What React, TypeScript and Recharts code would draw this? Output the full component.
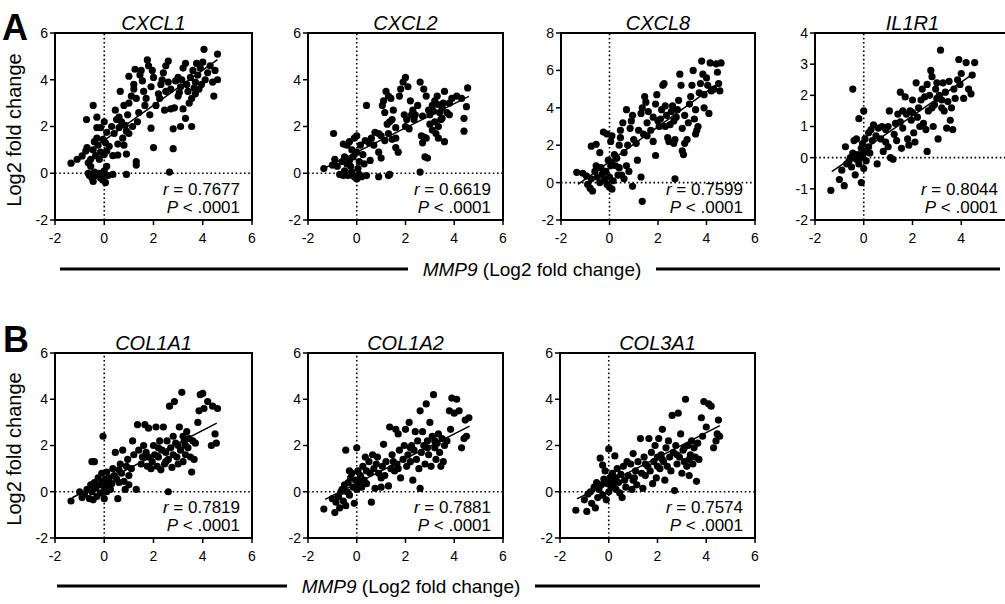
import { ScatterChart, Scatter, XAxis, YAxis, ReferenceLine } from 'recharts';

const FONT = "'Liberation Sans', Arial, Helvetica, sans-serif";

// MMP9 axis shared by every panel
const mmp9Ticks = [-2, 0, 2, 4, 6];
const mmp9TicksCut = [-2, 0, 2, 4];
const yTicks6 = [-2, 0, 2, 4, 6];
const yTicks8 = [-2, 0, 2, 4, 6, 8];
const yTicks4 = [-2, -1, 0, 1, 2, 3, 4];

// [MMP9, gene] log2 fold change
const cxcl1 = [
  [-0.65, 0.0], [-0.6, -0.1], [-0.45, -0.35], [-0.4, 0.05], [-0.3, -0.1], [-0.2, 0.0], [-0.15, -0.2], [-0.05, -0.3],
  [0.0, -0.05], [0.05, -0.4], [0.1, 0.3], [0.15, -0.1], [0.35, -0.05], [-0.5, -0.2], [0.0, 0.1], [-0.1, -0.15],
  [-1.35, 0.43], [-1.1, 0.6], [-0.9, 0.74], [-0.75, 0.95], [-0.65, 0.45], [-0.55, 0.6], [-0.7, 1.1], [-0.45, 1.0],
  [-0.4, 1.35], [-0.3, 1.5], [-0.25, 1.2], [-0.15, 0.9], [-0.05, 1.45], [0.05, 1.3], [0.1, 0.95], [0.2, 1.15],
  [-0.55, 0.3], [-0.2, 0.6], [0.0, 0.8], [-0.35, 0.75], [-0.72, 2.3], [-0.45, 2.9], [-0.3, 2.4], [-0.3, 1.95],
  [-0.15, 1.95], [0.0, 2.2], [0.1, 1.75], [0.35, 0.75], [0.55, 0.78], [0.9, 0.82], [0.9, -0.05], [1.3, 0.5],
  [1.3, 0.35], [0.3, 2.0], [0.4, 1.7], [0.5, 2.3], [0.6, 2.4], [0.45, 2.7], [0.7, 2.2], [0.8, 2.9], [0.9, 1.8],
  [1.0, 1.7], [0.75, 1.5], [0.95, 2.5], [1.1, 3.3], [1.2, 3.6], [1.3, 3.2], [1.4, 2.6], [1.35, 2.2], [0.65, 3.5],
  [1.0, 3.0], [0.85, 2.05], [1.15, 2.0], [0.6, 1.95], [0.8, 1.2], [0.55, 1.25], [1.0, 4.15], [1.25, 4.45],
  [1.45, 4.2], [1.5, 4.4], [1.2, 3.8], [1.55, 3.95], [1.6, 3.5], [1.7, 3.2], [1.75, 4.85], [1.8, 4.6], [1.95, 4.4],
  [2.0, 4.1], [1.9, 3.7], [1.65, 2.9], [1.9, 1.93], [2.0, 1.1], [1.85, 2.5], [2.1, 2.9], [2.2, 3.4], [2.3, 3.8],
  [2.4, 4.3], [2.5, 4.6], [2.6, 4.8], [2.35, 4.0], [2.25, 3.2], [2.5, 3.5], [2.6, 3.9], [2.7, 3.6], [2.45, 2.7],
  [2.7, 2.75], [2.85, 2.8], [2.8, 1.9], [2.8, 1.05], [2.65, 0.05], [3.0, 3.3], [3.1, 3.7], [3.15, 4.0], [3.2, 4.5],
  [3.3, 4.7], [3.0, 4.1], [3.35, 3.8], [3.4, 3.5], [3.5, 4.1], [3.6, 4.4], [3.55, 3.2], [3.2, 2.75], [3.3, 2.35],
  [3.1, 2.0], [3.55, 2.0], [3.45, 3.0], [3.7, 3.9], [3.8, 4.2], [3.85, 3.6], [3.9, 4.5], [4.0, 4.75], [4.05, 5.3],
  [4.1, 4.0], [4.2, 4.3], [4.3, 4.6], [4.4, 3.9], [4.5, 4.4], [4.45, 3.3], [4.6, 5.1], [4.6, 4.0], [3.7, 3.4],
  [3.75, 4.7], [2.9, 3.95], [3.05, 3.45], [3.65, 3.65], [3.95, 3.8],
];

const cxcl2 = [
  [-0.7, -0.05], [-0.55, -0.1], [-0.4, 0.0], [-0.35, -0.1], [-0.2, 0.05], [-0.1, -0.15], [0.0, -0.25], [0.1, -0.05],
  [0.2, -0.15], [0.4, -0.1], [0.9, -0.15], [1.35, -0.05], [1.3, -0.1], [-0.5, 0.1], [-0.25, 0.3], [0.05, 0.2],
  [-1.35, 0.2], [-1.0, 0.35], [-0.9, 0.6], [-0.8, 0.3], [-0.6, 0.5], [-0.5, 0.7], [-0.4, 0.4], [-0.3, 0.55],
  [-0.15, 0.7], [0.1, 0.5], [0.3, 0.4], [0.25, 0.8], [0.0, 0.9], [-0.2, 1.0], [-0.4, 1.2], [-0.55, 1.25],
  [-0.3, 1.35], [-0.1, 1.5], [0.0, 1.6], [0.15, 1.2], [0.35, 1.4], [0.5, 1.3], [0.6, 1.5], [0.7, 1.2], [-0.95, 1.7],
  [0.4, 2.9], [0.55, 0.55], [0.9, 0.9], [1.0, 0.65], [0.9, 1.7], [1.05, 2.9], [1.1, 3.1], [1.2, 3.5], [1.3, 3.3],
  [1.4, 3.2], [1.15, 2.6], [1.25, 2.1], [1.35, 2.2], [1.45, 2.3], [1.5, 2.7], [1.6, 1.1], [1.7, 0.9], [1.6, 1.5],
  [1.75, 3.3], [1.8, 3.6], [1.9, 3.9], [2.0, 4.1], [2.1, 3.7], [1.95, 2.5], [2.05, 2.3], [2.2, 3.1], [2.25, 2.5],
  [2.35, 2.3], [2.4, 2.5], [2.15, 1.9], [2.0, 2.0], [2.65, 1.6], [2.7, 1.3], [2.75, 1.55], [2.6, 0.05], [2.8, 0.7],
  [2.9, 0.65], [2.85, 1.5], [2.6, 3.9], [2.75, 3.6], [2.85, 3.3], [2.95, 2.7], [3.0, 2.5], [2.7, 2.45], [3.1, 2.9],
  [3.2, 3.1], [3.3, 3.3], [3.2, 2.2], [3.25, 1.7], [3.35, 1.5], [3.4, 2.6], [3.5, 2.8], [3.55, 3.0], [3.6, 3.5],
  [3.45, 2.3], [3.6, 1.35], [3.7, 2.6], [3.8, 2.5], [3.9, 3.2], [4.1, 3.3], [4.3, 3.2], [4.4, 1.8], [4.4, 2.35],
  [4.5, 2.85], [4.55, 3.65], [3.0, 2.1], [3.1, 1.85], [2.5, 2.9], [3.35, 2.0], [1.0, 1.6], [0.75, 1.75],
  [1.15, 1.4], [1.3, 1.7], [1.45, 1.45], [1.6, 1.95], [2.3, 2.7], [3.15, 2.65], [3.3, 2.95], [3.5, 2.35], [3.8, 3.0],
];

const cxcl8 = [
  [-1.35, 0.55], [-1.1, 0.5], [-0.95, 0.35], [-0.9, -0.1], [-0.8, -0.3], [-0.7, -0.45], [-0.75, 0.2], [-0.6, 0.6],
  [-0.55, 0.9], [-0.5, 0.3], [-0.4, 0.0], [-0.35, 0.8], [-0.3, 0.45], [-0.2, 0.2], [-0.1, -0.1], [0.0, -0.25],
  [0.1, -0.35], [0.15, 0.1], [0.0, 0.3], [-0.15, 0.6], [0.05, 0.9], [-0.05, 1.2], [0.1, 1.1], [0.25, 0.9],
  [0.3, 1.3], [0.4, 0.8], [0.5, 0.4], [0.6, 0.2], [0.7, 0.9], [0.8, 0.6], [0.95, -0.2], [1.3, 0.3], [1.35, -1.0],
  [-0.75, 1.95], [-0.55, 2.05], [-0.4, 1.6], [-0.25, 2.7], [-0.1, 2.6], [0.05, 2.2], [0.1, 2.5], [0.4, 2.0],
  [0.45, 2.4], [0.45, 2.8], [0.55, 3.2], [0.7, 3.9], [0.6, 1.6], [0.75, 2.0], [0.85, 2.9], [0.9, 3.3], [0.95, 3.6],
  [1.0, 2.3], [1.1, 2.1], [1.15, 1.2], [1.2, 2.8], [1.3, 3.7], [1.35, 4.0], [1.45, 4.6], [1.5, 4.3], [1.55, 3.2],
  [1.55, 2.5], [1.6, 3.8], [1.7, 2.8], [1.8, 3.5], [1.8, 2.2], [1.9, 4.2], [1.95, 4.7], [1.9, 1.45], [2.05, 3.0],
  [2.1, 3.4], [2.15, 3.9], [2.2, 5.2], [2.25, 5.3], [2.3, 4.1], [2.35, 3.6], [2.4, 2.4], [2.45, 2.2], [2.5, 3.1],
  [2.55, 3.8], [2.6, 4.1], [2.65, 2.1], [2.7, 2.3], [2.7, 0.2], [2.75, 3.5], [2.8, 3.9], [2.85, 4.4], [2.9, 5.8],
  [2.95, 5.2], [3.0, 2.9], [3.05, 1.5], [3.0, 1.7], [3.1, 2.1], [3.2, 2.3], [3.25, 3.2], [3.3, 4.2], [3.35, 4.6],
  [3.4, 5.2], [3.45, 6.0], [3.5, 3.4], [3.55, 2.6], [3.6, 2.8], [3.65, 3.0], [3.7, 4.8], [3.75, 5.3], [3.8, 6.5],
  [3.85, 5.8], [3.9, 4.0], [4.0, 5.6], [4.05, 5.2], [4.1, 3.7], [4.15, 6.4], [4.2, 4.9], [4.3, 5.0], [4.4, 6.35],
  [4.45, 5.9], [4.5, 5.3], [4.6, 6.4], [4.55, 4.9], [2.0, 3.3], [2.3, 3.0], [3.1, 3.6], [3.9, 4.7], [3.55, 3.9],
  [2.65, 3.3], [1.4, 2.6], [0.2, 1.5], [0.35, 0.4],
];

const il1r1 = [
  [-1.35, -1.05], [-1.0, -0.7], [-0.9, -0.4], [-0.8, -0.9], [-0.75, 0.35], [-0.7, -0.2], [-0.6, -0.1], [-0.55, 0.0],
  [-0.5, -0.3], [-0.45, 0.15], [-0.4, 0.55], [-0.35, -0.55], [-0.3, -0.05], [-0.25, 0.1], [-0.2, -0.2],
  [-0.15, 0.05], [-0.1, -0.8], [-0.1, 0.3], [-0.05, 0.0], [0.0, -0.35], [0.0, 0.15], [0.05, 0.6], [0.1, -0.1],
  [0.15, 0.2], [-0.45, 2.2], [-0.2, 1.25], [0.0, 1.5], [-0.3, 0.6], [0.2, 0.35], [0.3, 0.9], [0.4, 1.05],
  [0.35, 0.55], [0.25, 0.15], [0.55, -0.2], [0.5, 0.7], [0.6, 0.95], [0.7, 0.6], [0.75, 1.0], [0.8, 0.2], [0.9, 0.5],
  [0.9, 0.9], [1.0, 0.35], [1.05, 1.5], [1.1, 0.0], [1.2, -0.05], [1.25, 0.75], [1.3, 1.1], [1.35, 0.55], [1.4, 1.4],
  [1.5, 2.1], [1.55, 0.3], [1.5, 1.15], [1.6, 0.95], [1.7, 1.95], [1.75, 1.4], [1.8, 0.6], [1.85, 0.4], [1.9, 1.5],
  [1.95, 1.2], [2.0, 1.85], [2.05, 0.8], [2.1, 0.5], [2.15, 2.4], [2.2, 1.3], [2.25, 1.6], [2.3, 1.0], [2.35, 1.85],
  [2.4, 2.2], [2.45, 1.1], [2.5, 1.95], [2.55, 0.9], [2.6, 2.35], [2.65, 1.5], [2.7, 2.0], [2.75, 2.8], [2.8, 2.6],
  [2.6, 0.2], [2.85, 1.0], [2.9, 1.7], [2.95, 2.2], [3.0, 1.9], [3.05, 0.6], [3.1, 2.0], [3.15, 3.45], [3.2, 1.85],
  [3.25, 2.4], [3.3, 1.5], [3.35, 2.1], [3.4, 0.95], [3.45, 1.8], [3.5, 2.45], [3.55, 1.2], [3.6, 1.6], [3.65, 0.9],
  [3.7, 2.2], [3.75, 1.9], [3.85, 2.5], [3.9, 3.15], [3.95, 2.35], [4.0, 2.7], [4.1, 1.9], [4.2, 3.05], [4.3, 2.2],
  [4.4, 2.05], [4.45, 2.65], [4.55, 3.05], [1.0, 1.0], [1.6, 1.5], [2.0, 1.45], [2.8, 1.6], [3.0, 2.4], [3.2, 1.6],
  [0.2, 0.8], [-0.05, 0.45],
];

const col1a1 = [
  [-1.35, -0.4], [-1.0, 0.0], [-0.9, -0.25], [-0.8, -0.1], [-0.7, 0.1], [-0.6, -0.3], [-0.55, 0.3], [-0.5, 0.0],
  [-0.45, -0.35], [-0.4, 0.4], [-0.35, 0.15], [-0.3, -0.2], [-0.25, 0.6], [-0.2, 0.3], [-0.15, -0.05], [-0.1, 0.8],
  [-0.05, 0.45], [0.0, -0.3], [0.0, 0.2], [0.05, 0.55], [0.1, 0.0], [0.15, 0.35], [-0.5, 1.3], [-0.4, 1.3],
  [-0.05, 2.4], [0.1, 0.85], [0.2, 0.6], [0.25, 0.1], [0.35, 1.0], [0.4, 0.7], [0.45, 1.7], [0.5, 0.55],
  [0.55, -0.3], [0.6, 0.95], [0.65, 1.2], [0.7, 0.8], [0.75, 1.8], [0.8, 0.45], [0.85, 0.1], [0.9, 1.1], [0.95, 1.4],
  [1.0, 0.7], [1.1, 1.0], [1.15, 2.2], [1.2, 1.6], [1.3, 0.1], [1.35, 2.9], [1.4, 1.8], [1.5, 1.2], [1.55, 1.5],
  [1.6, 2.0], [1.65, 2.9], [1.7, 1.7], [1.75, 1.1], [1.8, 2.75], [1.9, 1.0], [1.95, 1.3], [2.0, 2.0], [2.05, 1.6],
  [2.1, 2.8], [2.15, 1.1], [2.2, 1.5], [2.25, 2.2], [2.3, 0.95], [2.35, 1.8], [2.4, 2.8], [2.45, 1.2], [2.5, 1.7],
  [2.55, 2.2], [2.6, 1.4], [2.6, 0.0], [2.65, 3.7], [2.7, 1.9], [2.75, 1.05], [2.8, 2.4], [2.85, 3.9], [2.9, 2.1],
  [2.95, 1.5], [3.0, 1.2], [3.05, 2.8], [3.1, 1.8], [3.15, 4.3], [3.2, 1.3], [3.25, 2.2], [3.3, 1.6], [3.35, 2.6],
  [3.4, 1.9], [3.45, 2.3], [3.5, 1.5], [3.55, 0.85], [3.6, 2.2], [3.65, 1.4], [3.7, 2.1], [3.8, 3.0], [3.85, 3.5],
  [3.9, 4.2], [4.0, 4.25], [4.05, 3.6], [4.2, 3.9], [4.35, 2.0], [4.4, 3.7], [4.5, 2.5], [4.55, 2.1], [4.6, 3.6],
  [2.2, 1.9], [2.8, 1.6], [3.0, 2.0], [3.3, 2.0], [1.0, 0.3], [0.3, 0.35], [1.8, 1.5], [2.5, 1.3], [3.2, 2.4],
  [0.6, 0.4],
];

const col1a2 = [
  [-1.35, -0.75], [-1.0, -0.3], [-0.9, -0.9], [-0.85, -0.45], [-0.75, -0.2], [-0.7, -0.7], [-0.65, 0.0],
  [-0.6, 0.1], [-0.55, -0.4], [-0.5, 0.3], [-0.45, -0.6], [-0.4, 0.0], [-0.35, 0.4], [-0.3, -0.15], [-0.25, 0.6],
  [-0.2, 0.8], [-0.15, 0.2], [-0.1, -0.5], [-0.05, 0.5], [0.0, 1.9], [0.0, 0.1], [0.05, 0.9], [0.1, 0.3],
  [-0.45, 1.8], [-0.3, 0.9], [0.15, 0.7], [0.2, 0.2], [0.25, 1.1], [0.3, 0.5], [0.35, 1.5], [0.4, 0.9], [0.5, 1.3],
  [0.55, 0.8], [0.6, -0.45], [0.65, 1.6], [0.7, 1.0], [0.75, 0.15], [0.8, 1.2], [0.85, 1.5], [0.9, 0.8], [1.0, 0.2],
  [1.05, 1.1], [1.1, 2.05], [1.15, 0.7], [1.2, 1.3], [1.3, 0.25], [1.35, 2.8], [1.4, 1.0], [1.45, 1.6], [1.55, 0.9],
  [1.6, 2.7], [1.65, 1.2], [1.7, 2.5], [1.75, 1.8], [1.8, 0.6], [1.9, 1.4], [1.95, 2.0], [2.0, 2.7], [2.05, 1.1],
  [2.1, 1.6], [2.15, 3.0], [2.2, 1.3], [2.25, 2.0], [2.3, 0.5], [2.35, 1.8], [2.4, 2.6], [2.45, 1.4], [2.5, 2.2],
  [2.55, 1.0], [2.6, 3.5], [2.6, 0.15], [2.65, 1.7], [2.7, 2.6], [2.75, 2.0], [2.8, 1.2], [2.85, 3.8], [2.9, 2.2],
  [2.95, 1.6], [3.0, 3.0], [3.05, 1.1], [3.1, 2.4], [3.15, 4.2], [3.2, 1.9], [3.25, 1.4], [3.3, 2.1], [3.35, 2.5],
  [3.4, 1.7], [3.45, 1.1], [3.5, 2.3], [3.55, 1.3], [3.6, 2.0], [3.7, 2.2], [3.8, 3.5], [3.85, 2.7], [3.9, 4.05],
  [4.0, 3.4], [4.1, 4.0], [4.2, 3.5], [4.3, 1.9], [4.4, 2.3], [4.45, 3.1], [4.5, 2.4], [4.6, 3.2], [1.0, 0.6],
  [1.5, 1.3], [2.2, 1.9], [2.9, 1.9], [3.2, 2.2], [0.2, 0.5], [0.4, 0.35], [1.7, 1.0],
];

const col3a1 = [
  [-1.35, -0.8], [-1.0, -0.35], [-0.9, -0.85], [-0.85, -0.1], [-0.75, 0.0], [-0.7, -0.5], [-0.6, 0.2],
  [-0.55, -0.7], [-0.5, 0.4], [-0.45, -0.25], [-0.4, 0.1], [-0.35, 1.45], [-0.3, 0.3], [-0.25, -0.15], [-0.2, 0.55],
  [-0.15, 0.9], [-0.1, -0.35], [-0.05, 0.35], [0.0, 1.85], [0.0, 0.0], [0.05, 0.6], [0.1, 0.2], [-0.25, 1.15],
  [0.15, 0.8], [0.2, 0.35], [0.25, 1.55], [0.3, 0.6], [0.35, 1.0], [0.4, 0.4], [0.45, -0.05], [0.5, 0.75],
  [0.55, -0.25], [0.6, 1.1], [0.65, 0.5], [0.7, 0.2], [0.75, 1.3], [0.8, 0.7], [0.9, 1.2], [0.95, 0.1], [1.0, 1.65],
  [1.05, 0.6], [1.1, 0.9], [1.15, 0.3], [1.2, 1.3], [1.3, 2.3], [1.35, 0.8], [1.4, 0.15], [1.45, 1.5], [1.5, 0.7],
  [1.6, 1.1], [1.65, 2.3], [1.7, 0.9], [1.75, 1.7], [1.8, 0.35], [1.85, 1.3], [1.9, 2.0], [1.95, 0.6], [2.0, 1.5],
  [2.05, 2.3], [2.1, 1.0], [2.15, 1.6], [2.2, 2.7], [2.25, 1.3], [2.3, 0.5], [2.35, 1.9], [2.4, 1.1], [2.45, 2.2],
  [2.5, 1.5], [2.55, 0.9], [2.6, 3.3], [2.65, 1.7], [2.7, 0.05], [2.75, 2.0], [2.8, 1.2], [2.85, 3.4], [2.9, 1.5],
  [2.95, 2.5], [3.0, 0.8], [3.05, 1.8], [3.1, 1.3], [3.15, 4.0], [3.2, 1.1], [3.25, 2.0], [3.3, 0.7], [3.35, 1.6],
  [3.4, 2.2], [3.45, 1.2], [3.5, 1.9], [3.55, 1.5], [3.6, 0.45], [3.65, 2.1], [3.7, 1.4], [3.8, 3.2], [3.85, 2.4],
  [3.9, 3.9], [4.0, 2.8], [4.1, 3.8], [4.2, 3.7], [4.3, 1.9], [4.4, 2.2], [4.45, 2.5], [4.5, 3.1], [4.55, 2.4],
  [1.0, 0.5], [1.5, 1.2], [2.2, 1.4], [2.8, 1.6], [3.1, 1.9], [0.3, 0.1], [2.0, 1.1], [3.3, 1.4],
];

// regression line end points [[x0, y0], [x1, y1]]
const fitCxcl1 = [[-1.3, 0.43], [4.6, 4.86]];
const fitCxcl2 = [[-1.34, 0.21], [4.6, 3.29]];
const fitCxcl8 = [[-1.3, -0.09], [4.58, 5.4]];
const fitIl1r1 = [[-1.31, -0.45], [4.56, 2.73]];
const fitCol1a1 = [[-1.3, -0.26], [4.57, 2.97]];
const fitCol1a2 = [[-1.3, -0.33], [4.63, 2.84]];
const fitCol3a1 = [[-1.3, -0.31], [4.56, 2.86]];

const genes = ['CXCL1', 'CXCL2', 'CXCL8', 'IL1R1', 'COL1A1', 'COL1A2', 'COL3A1'];
const rValues = ['0.7677', '0.6619', '0.7599', '0.8044', '0.7819', '0.7881', '0.7574'];
const pValue = '.0001';

const panels = [
  { pts: cxcl1, fit: fitCxcl1, yDomain: [-2, 6], yTicks: yTicks6, xTicks: mmp9Ticks, left: 55, top: 33, w: 197, h: 187 },
  { pts: cxcl2, fit: fitCxcl2, yDomain: [-2, 6], yTicks: yTicks6, xTicks: mmp9Ticks, left: 308, top: 33, w: 195, h: 187 },
  { pts: cxcl8, fit: fitCxcl8, yDomain: [-2, 8], yTicks: yTicks8, xTicks: mmp9Ticks, left: 561, top: 33, w: 194, h: 187 },
  { pts: il1r1, fit: fitIl1r1, yDomain: [-2, 4], yTicks: yTicks4, xTicks: mmp9TicksCut, left: 815, top: 33, w: 195, h: 187 },
  { pts: col1a1, fit: fitCol1a1, yDomain: [-2, 6], yTicks: yTicks6, xTicks: mmp9Ticks, left: 55, top: 353, w: 197, h: 185 },
  { pts: col1a2, fit: fitCol1a2, yDomain: [-2, 6], yTicks: yTicks6, xTicks: mmp9Ticks, left: 308, top: 353, w: 195, h: 185 },
  { pts: col3a1, fit: fitCol3a1, yDomain: [-2, 6], yTicks: yTicks6, xTicks: mmp9Ticks, left: 560, top: 353, w: 195, h: 185 },
];

const Dot = (props: any) => <circle cx={props.cx} cy={props.cy} r={3.6} fill='#000' />;

const tickStyle = { fill: '#000', fontSize: 14, fontFamily: FONT };
const frameLine = { stroke: '#000', strokeWidth: 2 };

const Panel = ({ p }: { p: (typeof panels)[number] }) => {
  const data = p.pts.map(([x, y]) => ({ x, y }));
  return (
    <div style={{ position: 'absolute', left: p.left - 30, top: p.top - 10 }}>
      <ScatterChart width={p.w + 42} height={p.h + 38} margin={{ top: 10, right: 12, bottom: 0, left: 0 }}>
        <XAxis
          type='number'
          dataKey='x'
          domain={[-2, 6]}
          ticks={p.xTicks}
          allowDataOverflow
          height={28}
          tickSize={5}
          tickMargin={8}
          axisLine={frameLine}
          tickLine={{ stroke: '#000', strokeWidth: 1.5 }}
          tick={tickStyle}
        />
        <XAxis xAxisId='top' orientation='top' type='number' domain={[-2, 6]} height={0} tick={false} tickLine={false} axisLine={frameLine} />
        <YAxis
          type='number'
          dataKey='y'
          domain={p.yDomain}
          ticks={p.yTicks}
          allowDataOverflow
          width={30}
          tickSize={5}
          axisLine={frameLine}
          tickLine={{ stroke: '#000', strokeWidth: 1.5 }}
          tick={tickStyle}
        />
        <YAxis yAxisId='right' orientation='right' type='number' domain={p.yDomain} width={0} tick={false} tickLine={false} axisLine={frameLine} />
        <ReferenceLine x={0} stroke='#000' strokeWidth={1.6} strokeDasharray='1.6 2.6' />
        <ReferenceLine y={0} stroke='#000' strokeWidth={1.6} strokeDasharray='1.6 2.6' />
        <Scatter data={data} shape={Dot} isAnimationActive={false} />
        <ReferenceLine
          segment={[
            { x: p.fit[0][0], y: p.fit[0][1] },
            { x: p.fit[1][0], y: p.fit[1][1] },
          ]}
          stroke='#000'
          strokeWidth={1.5}
        />
      </ScatterChart>
    </div>
  );
};

const App = () => {
  return (
    <div
      style={{
        position: 'fixed',
        left: 0,
        top: 0,
        width: 1005,
        height: 604,
        overflow: 'hidden',
        background: '#fff',
        fontFamily: FONT,
      }}
    >
      {panels.map((p, i) => (
        <Panel key={genes[i]} p={p} />
      ))}
      <svg
        width={1005}
        height={604}
        style={{ position: 'absolute', left: 0, top: 0, pointerEvents: 'none' }}
        fontFamily={FONT}
      >
        <text x={2} y={40} fontSize={36} fontWeight='bold'>A</text>
        <text x={3} y={352} fontSize={36} fontWeight='bold'>B</text>
        <text x={21} y={130} fontSize={20} textAnchor='middle' transform='rotate(-90 21 130)'>Log2 fold change</text>
        <text x={21} y={449} fontSize={20} textAnchor='middle' transform='rotate(-90 21 449)'>Log2 fold change</text>

        {panels.map((p, i) => (
          <g key={genes[i]}>
            <rect x={p.left} y={p.top} width={p.w} height={p.h} fill='none' stroke='#000' strokeWidth={2} />
            <text x={p.left + p.w / 2} y={p.top - 3} fontSize={20} fontStyle='italic' textAnchor='middle'>
              {genes[i]}
            </text>
            <text x={p.left + p.w - 12} y={p.top + p.h - 25} fontSize={17} textAnchor='end'>
              <tspan fontStyle='italic'>r</tspan> = {rValues[i]}
            </text>
            <text x={p.left + p.w - 12} y={p.top + p.h - 7} fontSize={17} textAnchor='end'>
              <tspan fontStyle='italic'>P</tspan> {'< '}{pValue}
            </text>
          </g>
        ))}

        <line x1={60} x2={408} y1={269} y2={269} stroke='#000' strokeWidth={3} />
        <line x1={656} x2={1000} y1={269} y2={269} stroke='#000' strokeWidth={3} />
        <text x={532} y={276} fontSize={19} textAnchor='middle'>
          <tspan fontStyle='italic'>MMP9</tspan> (Log2 fold change)
        </text>

        <line x1={57} x2={287} y1={586} y2={586} stroke='#000' strokeWidth={3} />
        <line x1={535} x2={760} y1={586} y2={586} stroke='#000' strokeWidth={3} />
        <text x={411} y={593} fontSize={19} textAnchor='middle'>
          <tspan fontStyle='italic'>MMP9</tspan> (Log2 fold change)
        </text>
      </svg>
    </div>
  );
};

export default App;
